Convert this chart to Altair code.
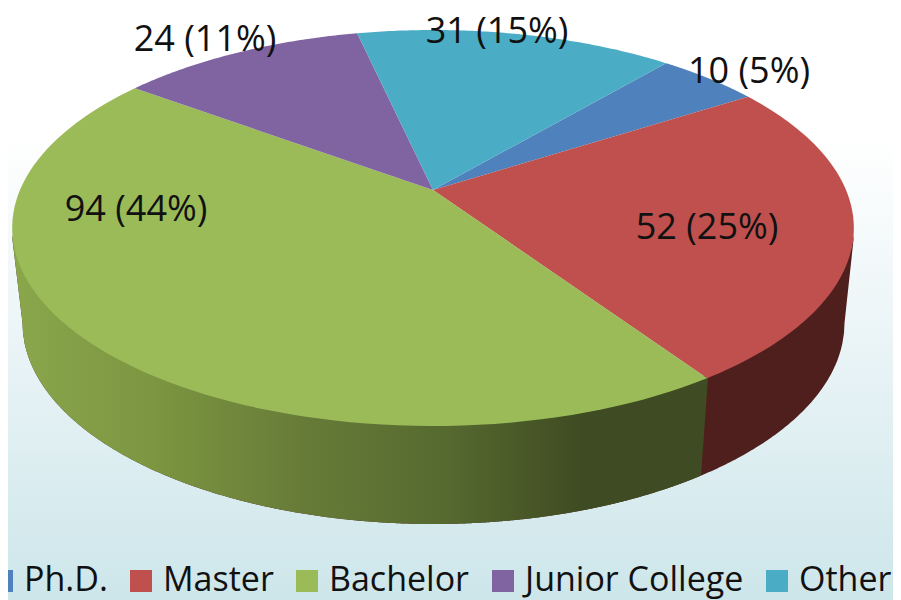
import numpy as np
import pandas as pd
import altair as alt

categories = ["Ph.D.", "Master", "Bachelor", "Junior College", "Other"]
values = [10, 52, 94, 24, 31]
percents = [5, 25, 44, 11, 15]
colors = ["#4f81bd", "#bf504d", "#9bbb59", "#8064a2", "#4bacc6"]

# layout of the tilted pie (image pixels)
START_DEG = 40.3
APEX = (433.0, 190.0)
A, B, K = 413.0, 190.7, 0.1919
BOTTOM = (433.5, 323.0, 411.0, 201.0)
TOP = (433.0, 228.0, 421.0, 198.0)
label_x = [749, 707, 136, 205, 497]
label_y = [72, 228, 210, 40, 32]
FONT = "Open Sans"


def project(theta):
    X, Y = np.sin(theta), np.cos(theta)
    d = 1 + K * Y
    return APEX[0] + A * X / d, APEX[1] - B * Y / d


total = sum(values)
edges = np.radians(START_DEG + np.concatenate([[0], np.cumsum(values)]) / total * 360)
rows = []
for i, c in enumerate(categories):
    th = np.linspace(edges[i], edges[i + 1], 90)
    px, py = project(th)
    rows.append({"cat": c, "i": -1, "x": APEX[0], "y": APEX[1]})
    rows += [{"cat": c, "i": j, "x": float(a), "y": float(b)} for j, (a, b) in enumerate(zip(px, py))]
slices = pd.DataFrame(rows)


def top_lower(x):
    cx, cy, a, b = TOP
    return cy + b * np.sqrt(np.clip(1 - ((x - cx) / a) ** 2, 0, 1))


def bot_lower(x):
    cx, cy, a, b = BOTTOM
    return cy + b * np.sqrt(np.clip(1 - ((x - cx) / a) ** 2, 0, 1))


def outer(x):
    y = bot_lower(x)
    # straight silhouette joining the two rims at the far left and right
    y = np.where(x < BOTTOM[0] - BOTTOM[2], np.interp(x, [12.5, BOTTOM[0] - BOTTOM[2]], [240, BOTTOM[1]]), y)
    y = np.where(x > BOTTOM[0] + BOTTOM[2], np.interp(x, [BOTTOM[0] + BOTTOM[2], 853.5], [BOTTOM[1], 240]), y)
    return y


xs = np.concatenate([np.linspace(12.5, 22.5, 12), np.linspace(23, 844, 500), np.linspace(844.5, 853.5, 12)])
wall_all = pd.DataFrame({"x": xs, "y": top_lower(xs) - 3, "y2": outer(xs)})

xg = np.concatenate([np.linspace(12.5, 22.5, 12), np.linspace(23, 701, 420), np.linspace(701.5, 708, 8)])
seam = np.where(xg > 701, np.interp(xg, [701, 708], [outer(np.array([701.0]))[0], 378]), outer(xg))
wall_green = pd.DataFrame({"x": xg, "y": top_lower(xg) - 3, "y2": seam})

lab = pd.DataFrame({
    "text": [f"{v} ({p}%)" for v, p in zip(values, percents)],
    "x": label_x, "y": label_y,
})

X = alt.X("x:Q", scale=alt.Scale(domain=[8, 893], nice=False, zero=False), axis=None)
Y = alt.Y("y:Q", scale=alt.Scale(domain=[600, 8], nice=False, zero=False), axis=None)

bg = alt.Chart(pd.DataFrame({"x": [8], "x2": [893], "y": [8], "y2": [600]})).mark_rect(
    color=alt.Gradient(gradient="linear", x1=0, y1=0, x2=0, y2=1, stops=[
        alt.GradientStop(offset=0, color="#ffffff"),
        alt.GradientStop(offset=0.22, color="#ffffff"),
        alt.GradientStop(offset=0.6, color="#e8f3f6"),
        alt.GradientStop(offset=1, color="#cde6ea"),
    ])
).encode(x=X, x2="x2:Q", y=Y, y2="y2:Q")

red_wall = alt.Chart(wall_all).mark_area(color="#4f1f1e").encode(x=X, y=Y, y2="y2:Q")

green_wall = alt.Chart(wall_green).mark_area(
    color=alt.Gradient(gradient="linear", x1=0, y1=0, x2=1, y2=0, stops=[
        alt.GradientStop(offset=0, color="#8aa74c"),
        alt.GradientStop(offset=0.2, color="#7c9641"),
        alt.GradientStop(offset=0.42, color="#677b38"),
        alt.GradientStop(offset=0.62, color="#566a30"),
        alt.GradientStop(offset=0.82, color="#3f4b22"),
        alt.GradientStop(offset=1, color="#3f4b22"),
    ])
).encode(x=X, y=Y, y2="y2:Q")

top = alt.Chart(slices).mark_line(filled=True).encode(
    x=X,
    y=Y,
    order="i:Q",
    color=alt.Color(
        "cat:N",
        scale=alt.Scale(domain=categories, range=colors),
        sort=categories,
        legend=alt.Legend(
            orient="none", legendX=-23, legendY=556, direction="horizontal", columns=5,
            title=None, symbolType="square", symbolSize=484, symbolStrokeWidth=0,
            labelFont=FONT, labelFontSize=34, labelColor="#111111", labelOffset=5,
            columnPadding=16, padding=0, symbolOpacity=1, labelLimit=400,
        ),
    ),
)

text = alt.Chart(lab).mark_text(font=FONT, fontSize=36, color="#111111", baseline="middle", align="center").encode(
    x=X, y=Y, text="text:N"
)

chart = alt.layer(bg, red_wall, green_wall, top, text).properties(
    width=885, height=592, padding=0, autosize=alt.AutoSizeParams(type="none"),
).configure_view(stroke=None)

chart.save("out.html", embed_options={"renderer": "svg", "actions": False})
